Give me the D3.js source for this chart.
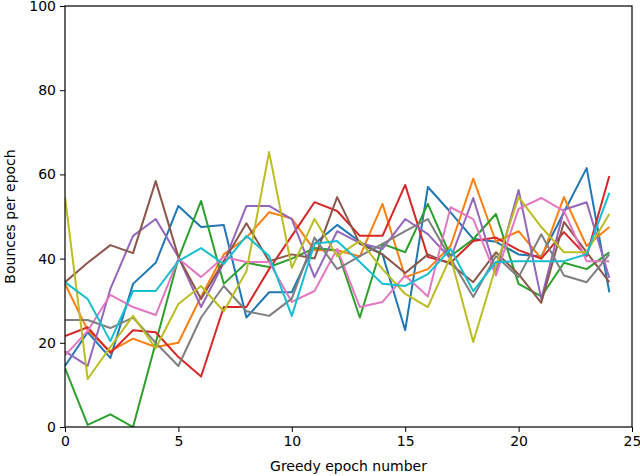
<!DOCTYPE html>
<html>
<head>
<meta charset="UTF-8">
<script src="https://d3js.org/d3.v7.min.js"></script>
<style>
  body { margin: 0; background: #fff; }
  svg text { font-family: "DejaVu Sans", sans-serif; }
</style>
</head>
<body>
<div id="chart"></div>
<script>
// epochs 0..24, one array per run
const epochs = d3.range(25);
const xTicks = [0, 5, 10, 15, 20, 25];
const yTicks = [0, 20, 40, 60, 80, 100];

const blue   = [14.5, 22.5, 16.4, 34, 39, 52.5, 47.5, 48, 26, 32, 32, 43.5, 48, 44, 41, 23, 57, 51, 44.7, 44, 41, 40.5, 51, 61.5, 32];
const orange = [34, 23, 18, 21, 19, 20, 31, 41, 45, 51, 49.5, 42, 42, 40.5, 53, 35.6, 37.5, 43, 59, 44, 46.5, 40, 54.6, 43, 47.5];
const green  = [14, 0.5, 3, 0, 20, 40, 53.7, 34, 39, 38, 40, 42.5, 42, 26, 43.5, 41.5, 53, 40.6, 44.6, 50.6, 34, 31, 39, 37.5, 41.5];
const red    = [21.6, 23.7, 17.6, 23, 22.5, 16.6, 12, 28.5, 28.5, 37.5, 45.4, 53.4, 51.3, 45.4, 45.4, 57.5, 40.4, 39, 44.2, 45, 42, 40, 46.3, 40.6, 59.6];
const purple = [18, 14.5, 32.8, 45.4, 49.4, 40.4, 28.5, 39, 52.5, 52.5, 49.4, 35.6, 46.5, 43.7, 42.3, 49.4, 45.8, 40, 54.4, 36.8, 56.3, 30.4, 51.6, 53.4, 35.4];
const brown  = [34.4, 39, 43.2, 41.3, 58.4, 40.4, 30.4, 39.4, 48.4, 39.4, 41, 40, 54.6, 43.5, 41, 36.6, 41, 38.7, 34.4, 41.5, 36.3, 29.5, 48.7, 41.5, 34.4];
const pink   = [17, 22.8, 31.4, 28.5, 26.6, 40, 35.6, 40.4, 39.2, 39.2, 29.7, 32.3, 42.3, 28.5, 29.7, 36, 31, 52.2, 49.4, 36, 51.8, 54.4, 51.3, 39.4, 39.4];
const gray   = [25.4, 25.4, 23.5, 26, 20, 14.5, 26, 33.5, 27.5, 26.4, 30.5, 45, 37.5, 40.6, 43.5, 46.5, 49.4, 40, 30.9, 40.6, 35.6, 45.8, 36, 34.4, 41];
const olive  = [54.6, 11.4, 19, 26.4, 18.7, 29.2, 33.5, 27.5, 37, 65.3, 37.8, 49.4, 40.6, 44.2, 37.5, 31.6, 28.5, 40.4, 20.2, 38.2, 54.6, 47.5, 41.5, 41.5, 50.6];
const cyan   = [34.4, 30.4, 20.4, 32.3, 32.3, 39.4, 42.5, 38.7, 45.4, 40.6, 26.4, 43.5, 44.2, 39.2, 34, 33.5, 36.3, 42.3, 32.3, 39.2, 39.4, 39.4, 39.4, 41, 55.6];

const runs = [blue, orange, green, red, purple, brown, pink, gray, olive, cyan];
const colors = d3.schemeCategory10;

const W = 640, H = 476;
const margin = { top: 6, right: 8, bottom: 49, left: 65 };
const width = W - margin.left - margin.right,
      height = H - margin.top - margin.bottom;

const svg = d3.select("#chart").append("svg")
    .attr("width", W)
    .attr("height", H);

const g = svg.append("g")
    .attr("transform", `translate(${margin.left},${margin.top})`);

const x = d3.scaleLinear().domain([0, 25]).range([0, width]);
const y = d3.scaleLinear().domain([0, 100]).range([height, 0]);

const line = d3.line()
    .x((d, i) => x(epochs[i]))
    .y(d => y(d));

g.append("defs").append("clipPath").attr("id", "clip")
  .append("rect").attr("width", width).attr("height", height);

g.append("g").attr("clip-path", "url(#clip)")
  .selectAll("path")
  .data(runs)
  .enter()
  .append("path")
    .attr("d", line)
    .attr("fill", "none")
    .attr("stroke", (d, i) => colors[i])
    .attr("stroke-width", 2)
    .attr("stroke-linejoin", "round");

const xAxis = g.append("g")
    .attr("transform", `translate(0,${height})`)
    .call(d3.axisBottom(x).tickValues(xTicks).tickSize(5).tickPadding(4));
const yAxis = g.append("g")
    .call(d3.axisLeft(y).tickValues(yTicks).tickSize(5).tickPadding(4));

[xAxis, yAxis].forEach(a => {
  a.select(".domain").remove();
  a.selectAll("line").attr("stroke", "#000").attr("stroke-width", 1);
  a.selectAll("text").attr("font-size", 14).attr("fill", "#000")
    .style("font-family", "DejaVu Sans, sans-serif");
});

// frame
g.append("rect")
    .attr("width", width)
    .attr("height", height)
    .attr("fill", "none")
    .attr("stroke", "#000")
    .attr("stroke-width", 1.2);

svg.append("text")
    .attr("x", margin.left + width / 2)
    .attr("y", 471)
    .attr("text-anchor", "middle")
    .attr("font-size", 14)
    .text("Greedy epoch number");

svg.append("text")
    .attr("transform", `translate(15,${margin.top + height / 2}) rotate(-90)`)
    .attr("text-anchor", "middle")
    .attr("font-size", 14)
    .text("Bounces per epoch");
</script>
</body>
</html>
